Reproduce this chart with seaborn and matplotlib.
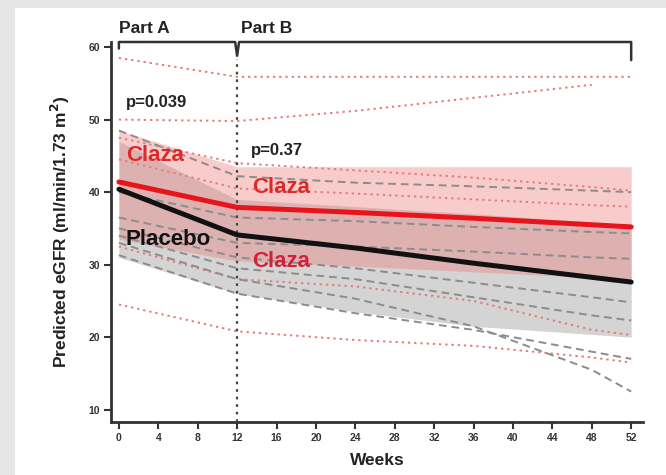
"""Predicted eGFR over 52 weeks: Claza vs placebo, individual and mean trajectories."""

import matplotlib.pyplot as plt
import numpy as np
import pandas as pd
import seaborn as sns
from matplotlib.patches import Rectangle

sns.set_theme(style="white")
plt.rcParams["font.family"] = ["Liberation Sans", "DejaVu Sans"]
plt.rcParams["font.weight"] = "bold"

# ---- data -----------------------------------------------------------------
weeks = [0, 12, 24, 36, 48, 52]
mean_weeks = [0, 12, 24, 36, 52]

claza_mean = [41.4, 37.9, 37.2, 36.4, 35.2]
placebo_mean = [40.4, 34.1, 32.3, 30.2, 27.6]

claza_lo = [33.5, 30.5, 29.8, 29.0, 28.0]
claza_hi = [48.5, 43.5, 43.5, 43.5, 43.5]
placebo_lo = [31.0, 26.0, 23.5, 21.5, 20.0]
placebo_hi = [47.0, 39.0, 38.0, 37.0, 35.5]

# individual patients, values at `weeks` (nan = no visit)
claza_patients = {
    "C1": [58.5, 55.9, 55.9, 55.9, 55.9, 55.9],
    "C2": [50.0, 49.8, 51.2, 53.0, 54.8, np.nan],
    "C3": [47.5, 44.0, 43.0, 42.0, 40.7, 40.2],
    "C4": [44.5, 40.5, 39.8, 39.0, 38.2, 38.0],
    "C5": [32.5, 28.0, 27.0, 25.0, 21.0, 20.3],
    "C6": [24.5, 20.8, 19.6, 18.8, 17.2, 16.5],
}
placebo_patients = {
    "P1": [48.5, 42.2, 41.3, 40.8, 40.2, 40.0],
    "P2": [40.0, 36.5, 36.0, 35.2, 34.5, 34.3],
    "P3": [36.5, 33.0, 32.5, 31.8, 31.0, 30.8],
    "P4": [35.0, 31.0, 29.5, 27.5, 25.5, 24.8],
    "P5": [34.0, 29.5, 28.0, 25.5, 23.0, 22.3],
    "P6": [33.0, 28.0, 25.3, 21.5, 15.5, 12.5],
    "P7": [31.3, 26.0, 23.3, 21.0, 18.0, 17.0],
}

y_ticks = [10, 20, 30, 40, 50, 60]
x_ticks = list(range(0, 53, 4))

# ---- long-form tables -----------------------------------------------------
rows = []
for arm, patients in [("Claza", claza_patients), ("Placebo", placebo_patients)]:
    for pid, vals in patients.items():
        for w, v in zip(weeks, vals):
            if not np.isnan(v):
                rows.append({"arm": arm, "patient": pid, "week": w, "egfr": v})
indiv = pd.DataFrame(rows)

means = pd.DataFrame(
    {
        "week": mean_weeks * 2,
        "egfr": claza_mean + placebo_mean,
        "arm": ["Claza"] * len(mean_weeks) + ["Placebo"] * len(mean_weeks),
    }
)

# ---- figure ---------------------------------------------------------------
fig = plt.figure(figsize=(6.66, 4.75), dpi=100, facecolor="#e6e6e6")
fig.patches.append(
    Rectangle((15 / 666, 0), 1, 1 - 8 / 475, transform=fig.transFigure,
              facecolor="white", edgecolor="none", zorder=-10)
)
ax = fig.add_axes([111 / 666, 1 - 422 / 475, (643 - 111) / 666, (422 - 42) / 475])
ax.set_facecolor("none")

ax.fill_between(mean_weeks, placebo_lo, placebo_hi, color="#9a9a9a", alpha=0.42,
                lw=0, zorder=1)
ax.fill_between(mean_weeks, claza_lo, claza_hi, color="#f07a7a", alpha=0.38,
                lw=0, zorder=1)

sns.lineplot(
    data=indiv, x="week", y="egfr", hue="arm", style="arm", units="patient",
    estimator=None, palette={"Claza": "#e57c7c", "Placebo": "#8c8c8c"},
    dashes={"Claza": (1.2, 2.0), "Placebo": (4, 2.5)},
    linewidth=1.4, legend=False, ax=ax, zorder=2,
)
sns.lineplot(
    data=means, x="week", y="egfr", hue="arm",
    palette={"Claza": "#e8141c", "Placebo": "#111111"},
    linewidth=3.6, legend=False, ax=ax, zorder=4,
)

# part A / B divider
ax.plot([12, 12], [8.3, 58.3], color="#444444", lw=1.6, ls=(0, (1.2, 2.2)),
        zorder=3, clip_on=False)

# bracket above the plot
bx = [0, 0, 11.8, 12, 12.2, 52, 52]
by = [59.8, 60.7, 60.7, 58.8, 60.7, 60.7, 58.2]
ax.plot(bx, by, color="#333333", lw=1.8, clip_on=False, zorder=5)
ax.text(0, 61.5, "Part A", fontsize=12.5, fontweight="bold", color="#222222",
        ha="left", va="bottom")
ax.text(12.4, 61.5, "Part B", fontsize=12.5, fontweight="bold", color="#222222",
        ha="left", va="bottom")

ax.text(0.7, 52.3, "p=0.039", fontsize=12, fontweight="bold", color="#222222",
        va="center")
ax.text(13.4, 45.8, "p=0.37", fontsize=12, fontweight="bold", color="#222222",
        va="center")
ax.text(0.7, 45.1, "Claza", fontsize=16, fontweight="bold", color="#dc2a2a",
        va="center", zorder=6)
ax.text(13.5, 40.6, "Claza", fontsize=16, fontweight="bold", color="#dc2a2a",
        va="center", zorder=6)
ax.text(13.5, 30.5, "Claza", fontsize=16, fontweight="bold", color="#d02238",
        va="center", zorder=6)
ax.text(0.7, 33.4, "Placebo", fontsize=16, fontweight="bold", color="#111111",
        va="center", zorder=6)

ax.set_xlim(-0.8, 53.2)
ax.set_ylim(8.3, 60.7)
ax.set_xticks(x_ticks)
ax.set_yticks(y_ticks)
ax.tick_params(axis="both", direction="out", length=5, width=1.5,
               color="#333333", labelsize=7.5, pad=3, bottom=True, left=True,
               labelcolor="#333333")
for lab in ax.get_xticklabels() + ax.get_yticklabels():
    lab.set_fontweight("bold")
ax.set_xlabel("Weeks", fontsize=12.5, fontweight="bold", labelpad=7,
              color="#222222")
ax.set_ylabel("Predicted eGFR (ml/min/1.73 m$^\\mathbf{2}$)", fontsize=12.5,
              fontweight="bold", labelpad=12, color="#222222")

sns.despine(ax=ax)
for side in ("left", "bottom"):
    ax.spines[side].set_linewidth(2.0)
    ax.spines[side].set_color("#333333")

fig.savefig("out.png", dpi=100, facecolor=fig.get_facecolor())
